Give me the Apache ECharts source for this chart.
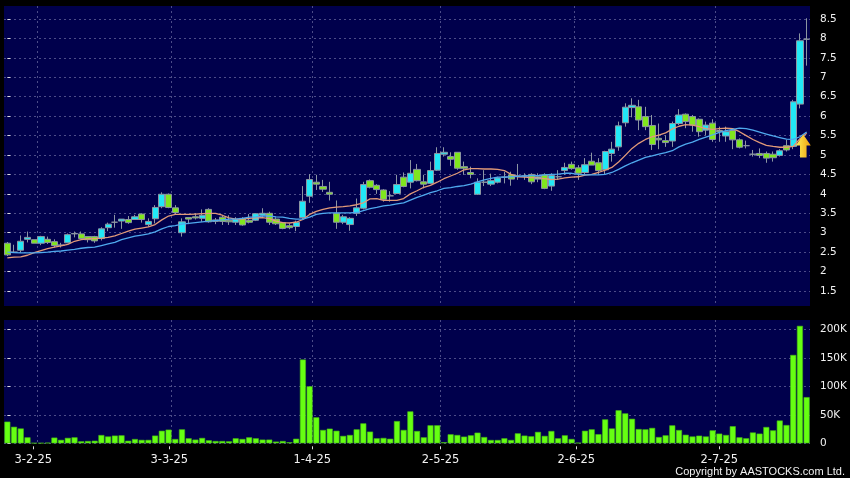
<!DOCTYPE html>
<html><head><meta charset="utf-8">
<style>html,body{margin:0;padding:0;background:#000;}#c{width:850px;height:478px;}</style>
<script src="https://cdn.jsdelivr.net/npm/echarts@6/dist/echarts.min.js"></script>
</head><body><div id="c"></div>
<script>
const opens = [2.73,2.50,2.55,2.83,2.82,2.73,2.83,2.77,2.68,2.74,2.97,2.97,2.90,2.90,2.85,3.13,3.27,3.30,3.34,3.34,3.48,3.21,3.36,3.67,3.99,3.64,3.00,3.39,3.41,3.37,
3.60,3.29,3.40,3.32,3.27,3.37,3.32,3.32,3.45,3.50,3.35,3.26,3.18,3.16,3.39,3.94,4.30,4.19,4.04,3.50,3.27,3.21,3.50,3.63,4.34,4.22,4.10,3.95,4.01,4.43,
4.30,4.63,4.31,4.27,4.61,5.02,4.96,5.07,4.70,4.55,3.99,4.30,4.25,4.30,4.43,4.49,4.46,4.46,4.50,4.38,4.49,4.20,4.44,4.60,4.76,4.67,4.55,4.84,4.80,4.62,
5.04,5.21,5.83,6.22,6.24,5.99,5.76,5.43,5.37,5.36,5.81,6.05,5.99,5.92,5.64,5.82,5.63,5.49,5.63,5.39,5.24,5.02,5.04,5.04,5.02,4.99,5.24,5.22,6.31,7.98];
const closes = [2.43,2.50,2.78,2.88,2.73,2.90,2.75,2.67,2.68,2.95,2.98,2.85,2.82,2.79,3.10,3.22,3.27,3.35,3.26,3.41,3.34,3.29,3.65,3.99,3.65,3.52,3.28,3.35,3.38,3.45,
3.28,3.33,3.29,3.28,3.34,3.20,3.27,3.49,3.50,3.27,3.23,3.11,3.13,3.27,3.81,4.37,4.25,4.12,3.99,3.27,3.41,3.37,3.64,4.24,4.17,4.11,3.86,3.95,4.24,4.19,
4.53,4.34,4.25,4.60,5.04,5.07,4.89,4.66,4.66,4.50,4.30,4.30,4.34,4.41,4.43,4.38,4.46,4.46,4.31,4.44,4.14,4.47,4.44,4.68,4.65,4.53,4.75,4.74,4.60,5.09,
5.15,5.75,6.23,6.28,5.90,5.73,5.27,5.39,5.32,5.81,6.03,5.86,5.77,5.60,5.77,5.40,5.60,5.60,5.39,5.20,5.24,5.02,4.99,4.92,4.93,5.11,5.13,6.37,7.94,7.98];
const lows = [2.40,2.49,2.49,2.75,2.73,2.68,2.71,2.62,2.62,2.73,2.88,2.83,2.75,2.74,2.80,3.04,3.13,3.10,3.23,3.33,3.26,3.16,3.24,3.63,3.63,3.46,2.90,3.22,3.34,3.28,
3.26,3.22,3.20,3.20,3.20,3.18,3.24,3.30,3.40,3.20,3.20,3.09,3.09,3.04,3.35,3.77,4.10,4.05,3.83,3.10,3.22,3.05,3.43,3.60,4.14,4.00,3.80,3.80,4.00,4.17,
4.14,4.32,4.14,4.25,4.59,4.96,4.72,4.62,4.49,4.40,3.97,4.20,4.20,4.27,4.27,4.21,4.36,4.36,4.25,4.30,4.12,4.08,4.36,4.49,4.62,4.36,4.49,4.74,4.49,4.49,
4.83,5.11,5.73,5.97,5.64,5.64,5.13,5.15,5.21,5.21,5.77,5.69,5.60,5.47,5.51,5.34,5.34,5.34,5.15,5.17,5.17,4.96,4.92,4.80,4.83,4.96,5.09,5.15,6.20,7.30];
const highs = [2.76,2.69,2.93,3.03,2.82,2.92,2.90,2.83,2.74,2.98,3.03,3.03,2.90,2.92,3.14,3.26,3.46,3.35,3.43,3.46,3.50,3.37,3.71,4.04,4.01,3.71,3.37,3.39,3.50,3.60,
3.63,3.38,3.45,3.45,3.40,3.40,3.48,3.50,3.63,3.54,3.40,3.26,3.24,3.31,4.20,4.51,4.49,4.36,4.31,3.83,3.46,3.40,3.88,4.31,4.37,4.25,4.12,4.07,4.49,4.55,
4.87,4.77,4.49,4.83,5.20,5.20,5.07,5.07,4.83,4.70,4.40,4.61,4.52,4.44,4.57,4.57,4.77,4.53,4.53,4.53,4.53,4.53,4.61,4.80,4.83,4.74,4.92,5.06,4.92,5.11,
5.34,5.86,6.33,6.46,6.42,6.24,6.03,5.81,5.51,5.86,6.18,6.07,6.03,5.94,5.86,5.92,5.73,5.73,5.69,5.43,5.37,5.13,5.17,5.09,5.09,5.15,5.39,6.42,8.13,8.52];
const volumes = [38,29,26,10.5,0.5,0.5,1,10,6,9.5,10.5,3.5,4,4.5,14.5,12,13.5,14,4.5,7.5,6,6,13.5,22,24,7.5,24.5,8.8,6.5,9.4,
5.3,4,4,3.5,8.8,7.6,10.5,8.8,6.5,6.5,3,4,1.8,8,147,100,45.6,23.4,25.7,22,13,14.6,24.5,35,20.5,8.8,9.4,8,39,23.4,
56,21.6,10.5,31.6,31.6,1.8,15.8,14.6,11.7,14,18.7,11,5.8,5.8,8.8,5.8,17.5,13.5,12.3,20,13,21.6,8.8,14,7.6,1,22,24.5,16,42,
26,58,52.5,43,25,24.5,27,11,14,31.5,23.3,15,12,13.4,12,22.7,17,14.6,30,10.5,8.8,19,17,28.6,22.7,40,32,155,206,81].map(v => v * 1000);
const maFast = [2.35,2.37,2.38,2.42,2.49,2.54,2.59,2.63,2.66,2.70,2.78,2.82,2.84,2.85,2.86,2.88,2.92,2.98,3.04,3.09,3.12,3.15,3.21,3.33,3.43,3.47,3.47,3.47,3.48,3.49,
3.50,3.50,3.45,3.38,3.35,3.35,3.37,3.38,3.39,3.36,3.30,3.26,3.25,3.27,3.34,3.47,3.55,3.60,3.64,3.66,3.67,3.69,3.72,3.77,3.87,3.88,3.83,3.83,3.83,3.88,
4.00,4.08,4.17,4.22,4.30,4.39,4.46,4.53,4.62,4.65,4.65,4.64,4.64,4.63,4.60,4.50,4.44,4.43,4.42,4.41,4.39,4.37,4.38,4.41,4.43,4.44,4.48,4.50,4.55,4.61,
4.68,4.82,4.99,5.17,5.30,5.40,5.47,5.51,5.57,5.67,5.74,5.78,5.77,5.73,5.68,5.66,5.68,5.69,5.68,5.60,5.50,5.40,5.32,5.25,5.22,5.20,5.20,5.22,5.42,5.56];
const maSlow = [2.50,2.49,2.48,2.48,2.48,2.49,2.50,2.52,2.53,2.55,2.57,2.60,2.62,2.63,2.67,2.71,2.75,2.82,2.87,2.91,2.94,2.97,3.02,3.10,3.16,3.18,3.22,3.24,3.26,3.28,
3.30,3.31,3.33,3.35,3.35,3.37,3.40,3.41,3.43,3.43,3.41,3.40,3.37,3.35,3.35,3.40,3.47,3.50,3.51,3.51,3.51,3.51,3.52,3.57,3.62,3.65,3.69,3.71,3.74,3.77,
3.84,3.91,3.97,4.03,4.08,4.14,4.16,4.19,4.21,4.25,4.31,4.36,4.40,4.43,4.43,4.44,4.45,4.46,4.47,4.47,4.49,4.50,4.51,4.53,4.53,4.50,4.49,4.49,4.49,4.50,
4.55,4.63,4.72,4.80,4.87,4.94,4.98,5.02,5.06,5.11,5.21,5.28,5.33,5.40,5.46,5.52,5.58,5.63,5.66,5.69,5.68,5.64,5.59,5.54,5.49,5.45,5.41,5.40,5.47,5.59];
const dateLabels = ['3-2-25','3-3-25','1-4-25','2-5-25','2-6-25','2-7-25'];
const dateTickSlots = [3.86,24.1,45.4,64.5,84.7,106.0];
const dateGridSlots = [4.46,24.4,45.4,64.5,84.4,105.4];
const priceTicks = [1.5,2,2.5,3,3.5,4,4.5,5,5.5,6,6.5,7,7.5,8,8.5];
const volumeTicks = [0,50000,100000,150000,200000];
const signalPoint = [118.5,5.23];

const slots = opens.map((_, i) => String(i));
const candleData = opens.map((o, i) => [o, closes[i], lows[i], highs[i]]);
const TXT = '#f2f2f2', GRIDC = '#4c4c88', FONT = '"DejaVu Sans"';
const dash = {show:true, lineStyle:{color:GRIDC, width:1, type:[2,3]}};
const off = {show:false};
function slotAxis(gridIndex, custom, extra){
  return Object.assign({type:'value', gridIndex, min:-0.5, max:119.5, position:'bottom',
    axisLine:{show:false,onZero:false}, axisTick:{show:false, customValues:custom},
    axisLabel:{show:false, customValues:custom}, splitLine:off}, extra||{});
}
const chart = echarts.init(document.getElementById('c'), null, {renderer:'canvas'});
chart.setOption({
  animation:false, backgroundColor:'#000',
  grid:[
    {left:4, top:6, width:806, height:300, show:true, backgroundColor:'#00004c', borderWidth:0},
    {left:4, top:320, width:806, height:123.3, show:true, backgroundColor:'#00004c', borderWidth:0}
  ],
  xAxis:[
    {type:'category', gridIndex:0, data:slots, show:false},
    slotAxis(0, dateGridSlots, {splitLine:dash}),
    {type:'category', gridIndex:1, data:slots, show:false},
    slotAxis(1, dateGridSlots, {splitLine:dash}),
    slotAxis(1, dateTickSlots, {offset:3,
      axisTick:{show:true, customValues:dateTickSlots, length:3, lineStyle:{color:'#dddddd'}},
      axisLabel:{show:true, customValues:dateTickSlots, color:TXT, fontFamily:FONT, fontSize:11.5, margin:8,
        formatter:v => dateLabels[dateTickSlots.indexOf(v)] || ''}})
  ],
  yAxis:[
    {type:'value', gridIndex:0, position:'right', min:1.114, max:8.835, offset:4, scale:true,
     axisLine:off, axisTick:{show:true, length:3, customValues:priceTicks, lineStyle:{color:'#dddddd'}},
     axisLabel:{color:TXT, fontFamily:FONT, fontSize:10.5, margin:6, customValues:priceTicks, formatter:v => String(v)},
     splitLine:dash},
    {type:'value', gridIndex:1, position:'right', min:0, max:216300, offset:4,
     axisLine:off, axisTick:{show:true, length:3, customValues:volumeTicks, lineStyle:{color:'#dddddd'}},
     axisLabel:{color:TXT, fontFamily:FONT, fontSize:10.5, margin:6, customValues:volumeTicks, formatter:v => v === 0 ? '0' : (v/1000)+'K'},
     splitLine:dash}
  ],
  series:[
    {type:'candlestick', name:'Price', xAxisIndex:0, yAxisIndex:0, data:candleData, barWidth:6.7,
     itemStyle:{color:'#22e8f6', color0:'#80e61e', borderColor:'#8c96a2', borderColor0:'#8c96a2', borderWidth:1}},
    {type:'line', name:'MA fast', xAxisIndex:0, yAxisIndex:0, data:maFast, showSymbol:false, smooth:false,
     lineStyle:{color:'#e29a78', width:1.3}, z:5},
    {type:'line', name:'MA slow', xAxisIndex:0, yAxisIndex:0, data:maSlow, showSymbol:false, smooth:false,
     lineStyle:{color:'#4fa9ee', width:1.3}, z:5},
    {type:'scatter', name:'Signal', xAxisIndex:1, yAxisIndex:0, data:[signalPoint], z:8,
     symbol:'path://M8 0 L16 11 L11.5 11 L11.5 23 L4.5 23 L4.5 11 L0 11 Z', symbolSize:[15,23],
     itemStyle:{color:new echarts.graphic.LinearGradient(0,0,1,0,[{offset:0,color:'#ffee55'},{offset:1,color:'#eea010'}]), opacity:1}},
    {type:'bar', name:'Volume', xAxisIndex:2, yAxisIndex:1, data:volumes, barWidth:6,
     itemStyle:{color:'#66ff12', borderColor:'#46b814', borderWidth:0.6}}
  ],
  graphic:[{type:'text', right:5, top:466, style:{text:'Copyright by AASTOCKS.com Ltd.', fill:TXT, font:'11px "Liberation Sans"'}}]
});
</script></body></html>
